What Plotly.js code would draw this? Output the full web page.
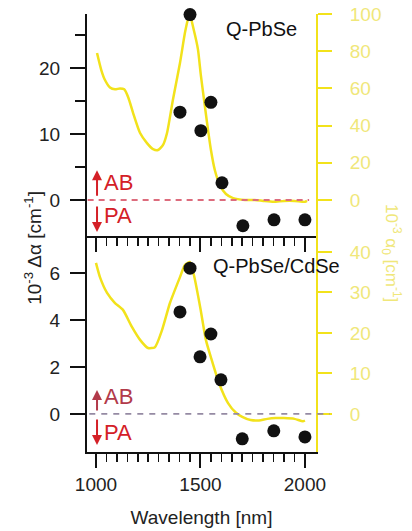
<!DOCTYPE html>
<html>
<head>
<meta charset="utf-8">
<script src="https://cdn.plot.ly/plotly-3.0.1.min.js"></script>
<style>html,body{margin:0;padding:0;background:#fff;}#chart{width:412px;height:531px;}</style>
</head>
<body>
<div id="chart"></div>
<script>
// Top panel: Q-PbSe
const topDotsWavelength = [1402, 1450, 1502, 1550, 1603, 1703, 1852, 2000];
const topDotsDeltaAlpha = [13.3, 28.1, 10.5, 14.8, 2.6, -3.9, -3.0, -3.0];
const topAbsWavelength = [1005, 1025, 1043, 1067, 1091, 1115, 1135, 1155, 1177, 1211, 1244, 1273, 1297, 1321, 1340, 1368, 1402, 1426, 1440, 1450, 1469, 1488, 1502, 1517, 1531, 1550, 1569, 1593, 1622, 1656, 1713, 1760, 1800, 1850, 1900, 1950, 2000, 2010];
const topAbsAlpha0 = [79, 70, 64.5, 60.5, 59.5, 60, 59.5, 55, 47, 36, 30.6, 27.4, 26.9, 29.6, 36, 53.8, 73.7, 90, 97, 99, 91, 81, 67, 54, 42, 27, 16, 8, 3.2, 1, 0, 0, -0.5, -1, -0.5, -0.5, -1, -0.5];

// Bottom panel: Q-PbSe/CdSe
const botDotsWavelength = [1402, 1450, 1498, 1550, 1598, 1700, 1851, 2000];
const botDotsDeltaAlpha = [4.34, 6.2, 2.43, 3.4, 1.45, -1.06, -0.72, -0.98];
const botAbsWavelength = [1000, 1019, 1053, 1091, 1129, 1172, 1211, 1249, 1282, 1316, 1354, 1402, 1426, 1450, 1470, 1500, 1526, 1550, 1589, 1632, 1670, 1700, 1740, 1780, 1820, 1860, 1900, 1950, 1990, 2000];
const botAbsAlpha0 = [37.3, 33.8, 29.9, 27.4, 25.7, 21.5, 18.3, 16.3, 16.5, 20.7, 27.4, 33.8, 36.8, 37.5, 34, 26, 18.3, 14, 7.6, 2.7, 0.3, -0.7, -1.5, -1.6, -1.2, -1, -1, -1.2, -1.8, -1.6];

const xTickVals = [1000, 1500, 2000];
const xTickText = ['1000', '1500', '2000'];
const topLeftTicks = [0, 10, 20];
const topLeftMinor = [5, 15, 25];
const topRightTicks = [0, 20, 40, 60, 80, 100];
const botLeftTicks = [0, 2, 4, 6];
const botRightTicks = [0, 10, 20, 30, 40];

const xMinor = [];
for (let v = 1050; v < 2000; v += 50) { if (v !== 1500) xMinor.push(v); }

const YEL = '#f2e21b';
const YEL_TXT = '#f0e77a';
const FONT = 'Liberation Sans, Arial, sans-serif';
const RED = '#d42027';

const traces = [
  {x: topAbsWavelength, y: topAbsAlpha0, xaxis: 'x', yaxis: 'y', type: 'scatter', mode: 'lines',
   line: {color: YEL, width: 2.5, shape: 'spline', smoothing: 0.6}, hoverinfo: 'skip'},
  {x: topDotsWavelength, y: topDotsDeltaAlpha, xaxis: 'x', yaxis: 'y2', type: 'scatter', mode: 'markers',
   marker: {color: '#111', size: 13}, cliponaxis: false},
  {x: botAbsWavelength, y: botAbsAlpha0, xaxis: 'x2', yaxis: 'y3', type: 'scatter', mode: 'lines',
   line: {color: YEL, width: 2.5, shape: 'spline', smoothing: 0.6}, hoverinfo: 'skip'},
  {x: botDotsWavelength, y: botDotsDeltaAlpha, xaxis: 'x2', yaxis: 'y4', type: 'scatter', mode: 'markers',
   marker: {color: '#111', size: 13}, cliponaxis: false}
];

const split = 0.4932;
const xr = [957, 2053];

function xAxis(anchor, labels) {
  return {
    anchor: anchor, domain: [0, 1], range: xr, showgrid: false, zeroline: false,
    showline: true, linecolor: '#111', linewidth: 2,
    ticks: 'outside', ticklen: 14, tickwidth: 2, tickcolor: '#111',
    tickmode: 'array', tickvals: xTickVals, ticktext: xTickText, showticklabels: labels,
    tickfont: {family: FONT, size: 19, color: '#222'},
    minor: {tickmode: 'array', tickvals: xMinor, ticks: 'outside', ticklen: 8, tickwidth: 1.5, tickcolor: '#111'}
  };
}
function leftAxis(overlay, range, ticks, minor) {
  const a = {
    overlaying: overlay, side: 'left', range: range, showgrid: false, zeroline: false,
    showline: true, linecolor: '#111', linewidth: 2,
    ticks: 'outside', ticklen: 15, tickwidth: 2, tickcolor: '#111',
    tickmode: 'array', tickvals: ticks, ticklabelstandoff: 6,
    tickfont: {family: FONT, size: 19, color: '#222'}
  };
  if (minor) a.minor = {tickmode: 'array', tickvals: minor, ticks: 'outside', ticklen: 10, tickwidth: 2, tickcolor: '#111'};
  return a;
}
function rightAxis(anchor, domain, range, ticks) {
  return {
    anchor: anchor, domain: domain, side: 'right', range: range, showgrid: false, zeroline: false,
    showline: true, linecolor: YEL, linewidth: 2,
    ticks: 'outside', ticklen: 14, tickwidth: 2, tickcolor: YEL,
    tickmode: 'array', tickvals: ticks, ticklabelstandoff: 14,
    tickfont: {family: FONT, size: 19, color: YEL_TXT}
  };
}

const xa2 = xAxis('y3', true);
xa2.title = {text: 'Wavelength [nm]', font: {family: FONT, size: 19, color: '#222'}, standoff: 17};

const layout = {
  width: 412, height: 531,
  margin: {l: 87, r: 96, t: 14, b: 79},
  paper_bgcolor: '#fff', plot_bgcolor: '#fff',
  showlegend: false,
  xaxis: xAxis('y', false),
  xaxis2: xa2,
  yaxis: rightAxis('x', [split, 1], [-19.35, 100], topRightTicks),
  yaxis2: leftAxis('y', [-5.45, 28.18], topLeftTicks, topLeftMinor),
  yaxis3: rightAxis('x2', [0, split], [-9.38, 43.95], botRightTicks),
  yaxis4: leftAxis('y3', [-1.62, 7.57], botLeftTicks, null),
  shapes: [
    {type: 'line', xref: 'x', yref: 'y2', x0: 960, x1: 2020, y0: 0, y1: 0,
     line: {color: '#dd6c7d', width: 2, dash: '6px,5px'}, layer: 'above'},
    {type: 'line', xref: 'paper', yref: 'y4', x0: 0.01, x1: 1.06, y0: 0, y1: 0,
     line: {color: '#958aa3', width: 1.6, dash: '6px,6px'}, layer: 'above'}
  ],
  annotations: [
    {xref: 'x', yref: 'y2', x: 1612, y: 28.18, text: 'Q-PbSe', showarrow: false, xanchor: 'left', yanchor: 'top', yshift: -2,
     font: {family: FONT, size: 20, color: '#111'}},
    {xref: 'x2', yref: 'y4', x: 1550, y: 6.3, text: 'Q-PbSe/CdSe', showarrow: false, xanchor: 'left', yanchor: 'middle',
     font: {family: FONT, size: 20, color: '#111'}},
    // AB / PA top
    {xref: 'x', yref: 'y2', x: 1030, y: 2.7, text: 'AB', showarrow: false, xanchor: 'left', yanchor: 'middle',
     font: {family: FONT, size: 22, color: RED}},
    {xref: 'x', yref: 'y2', x: 1030, y: -2.4, text: 'PA', showarrow: false, xanchor: 'left', yanchor: 'middle',
     font: {family: FONT, size: 22, color: RED}},
    {xref: 'x', yref: 'y2', x: 1005, y: 4.5, ax: 0, ay: 27, text: '', showarrow: true, arrowhead: 2, arrowsize: 1, arrowwidth: 2, arrowcolor: RED},
    {xref: 'x', yref: 'y2', x: 1005, y: -4.85, ax: 0, ay: -27, text: '', showarrow: true, arrowhead: 2, arrowsize: 1, arrowwidth: 2, arrowcolor: RED},
    // AB / PA bottom
    {xref: 'x2', yref: 'y4', x: 1028, y: 0.72, text: 'AB', showarrow: false, xanchor: 'left', yanchor: 'middle',
     font: {family: FONT, size: 22, color: '#b23a4a'}},
    {xref: 'x2', yref: 'y4', x: 1028, y: -0.81, text: 'PA', showarrow: false, xanchor: 'left', yanchor: 'middle',
     font: {family: FONT, size: 22, color: RED}},
    {xref: 'x2', yref: 'y4', x: 1005, y: 1.02, ax: 0, ay: 22, text: '', showarrow: true, arrowhead: 2, arrowsize: 1, arrowwidth: 2, arrowcolor: '#b23a4a'},
    {xref: 'x2', yref: 'y4', x: 1005, y: -1.32, ax: 0, ay: -27, text: '', showarrow: true, arrowhead: 2, arrowsize: 1, arrowwidth: 2, arrowcolor: RED},
    // axis titles
    {xref: 'paper', yref: 'paper', x: -0.236, y: 0.466, text: '10<sup>-3</sup> Δα [cm<sup>-1</sup>]', textangle: -90,
     showarrow: false, xanchor: 'center', yanchor: 'middle', font: {family: FONT, size: 19, color: '#222'}},
    {xref: 'paper', yref: 'paper', x: 1.332, y: 0.454, text: '10<sup>-3</sup> α<sub>0</sub> [cm<sup>-1</sup>]', textangle: 90,
     showarrow: false, xanchor: 'center', yanchor: 'middle', font: {family: FONT, size: 17, color: YEL_TXT}}
  ]
};

Plotly.newPlot('chart', traces, layout, {staticPlot: true, displayModeBar: false});
</script>
</body>
</html>
